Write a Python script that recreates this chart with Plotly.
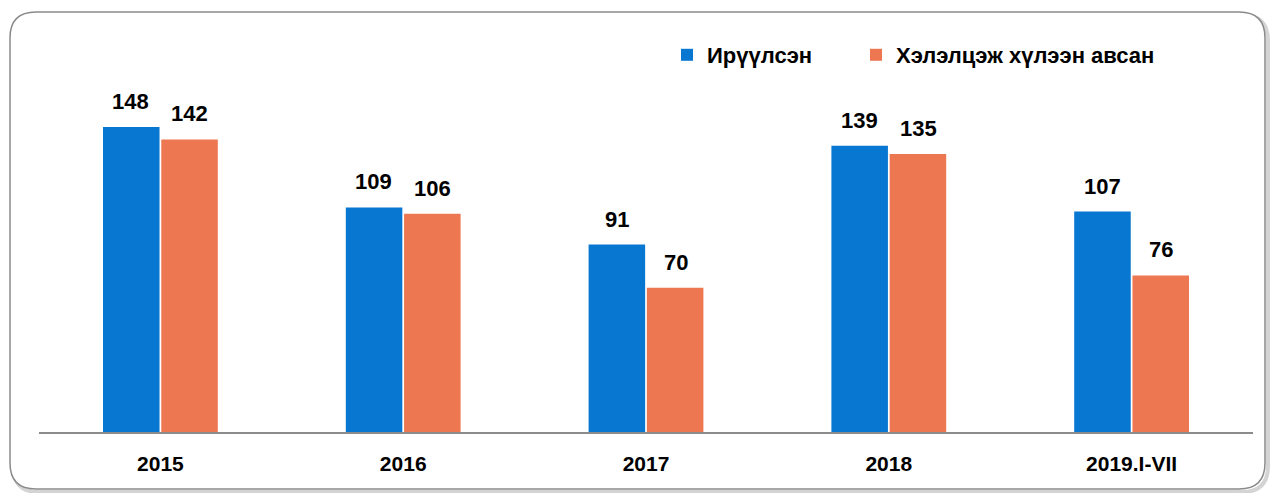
import plotly.graph_objects as go

categories = ["2015", "2016", "2017", "2018", "2019.I-VII"]
sent = [148, 109, 91, 139, 107]
accepted = [142, 106, 70, 135, 76]
series_names = ["Ирүүлсэн", "Хэлэлцэж хүлээн авсан"]

BLUE = "#0877D1"
ORANGE = "#ED7751"
FONT = "Liberation Sans"

W, H = 1270, 493
ML, MR, MT, MB = 39, 17, 20, 61
PW, PH = W - ML - MR, H - MT - MB

fig = go.Figure()
fig.add_trace(go.Bar(x=categories, y=sent, name=series_names[0], marker_color=BLUE,
                     marker_line_width=0, legend="legend"))
fig.add_trace(go.Bar(x=categories, y=accepted, name=series_names[1], marker_color=ORANGE,
                     marker_line_width=0, legend="legend2"))

# value labels (x given as category index so numeric-looking names are not cast)
for vals, shift in ((sent, -29.5), (accepted, 29.5)):
    for i, v in enumerate(vals):
        fig.add_annotation(x=i, y=v, xref="x", yref="y", text=f"<b>{v}</b>",
                           showarrow=False, xshift=shift, yanchor="bottom", yshift=11,
                           font=dict(family=FONT, size=22, color="black"))

def px2paper(px, py):
    return (px - ML) / PW, (H - MB - py) / PH

def rounded_path(x0, y0, x1, y1, r):
    def P(x, y):
        a, b = px2paper(x, y)
        return f"{a:.5f},{b:.5f}"
    d = (f"M {P(x0 + r, y0)} L {P(x1 - r, y0)} Q {P(x1, y0)} {P(x1, y0 + r)} "
         f"L {P(x1, y1 - r)} Q {P(x1, y1)} {P(x1 - r, y1)} "
         f"L {P(x0 + r, y1)} Q {P(x0, y1)} {P(x0, y1 - r)} "
         f"L {P(x0, y0 + r)} Q {P(x0, y0)} {P(x0 + r, y0)} Z")
    return d

fig.add_shape(type="path", xref="paper", yref="paper", layer="below",
              path=rounded_path(13, 15, 1268, 492, 26),
              line=dict(color="#d4d4d4", width=4), fillcolor="rgba(0,0,0,0)")
fig.add_shape(type="path", xref="paper", yref="paper", layer="below",
              path=rounded_path(10, 12, 1265, 489, 26),
              line=dict(color="#8a8a8a", width=1.5), fillcolor="white")

legend_font = dict(family=FONT, size=22, color="black", weight="bold")
lx1, _ = px2paper(667, 0)
lx2, _ = px2paper(856, 0)
_, ly = px2paper(0, 34)

fig.update_layout(
    width=W, height=H,
    margin=dict(l=ML, r=MR, t=MT, b=MB),
    paper_bgcolor="white", plot_bgcolor="rgba(0,0,0,0)",
    barmode="group", bargap=0.52, bargroupgap=0.03,
    font=dict(family=FONT, color="black"),
    showlegend=True,
    legend=dict(orientation="h", x=lx1, y=ly, xanchor="left", yanchor="top",
                font=legend_font, bgcolor="rgba(0,0,0,0)", itemwidth=30),
    legend2=dict(orientation="h", x=lx2, y=ly, xanchor="left", yanchor="top",
                 font=legend_font, bgcolor="rgba(0,0,0,0)", itemwidth=30),
    xaxis=dict(type="category", showline=True, linecolor="#8c8c8c", linewidth=1.5, ticks="",
               tickfont=dict(family=FONT, size=21, color="black", weight="bold"),
               ticklabelstandoff=12, showgrid=False, range=[-0.5, 4.5]),
    yaxis=dict(range=[0, 200], visible=False, showgrid=False),
)

fig.write_html("out.html", config={"displayModeBar": False},
               post_script="document.body.style.margin='0';document.body.style.overflow='hidden';")
